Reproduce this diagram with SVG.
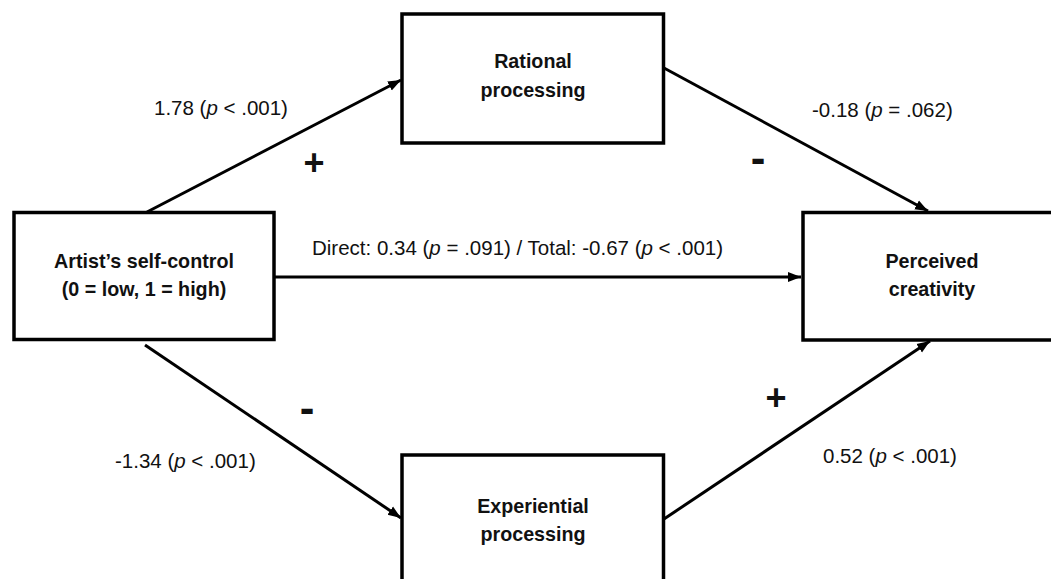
<svg xmlns="http://www.w3.org/2000/svg" width="1051" height="579" viewBox="0 0 1051 579">
<style>
.box{fill:#fff;stroke:#000;stroke-width:3.5}
.nt{font-family:"Liberation Sans",Arial,sans-serif;font-weight:bold;font-size:19.7px;fill:#111;text-anchor:middle}
.lb{font-family:"Liberation Sans",Arial,sans-serif;font-size:20.5px;fill:#111}
.sg{font-family:"Liberation Sans",Arial,sans-serif;font-weight:bold;fill:#111;text-anchor:middle}
.edge{stroke:#000;stroke-width:3;fill:none;marker-end:url(#ah)}
</style>
<defs>
<marker id="ah" markerUnits="userSpaceOnUse" markerWidth="14" markerHeight="12" refX="13" refY="6" orient="auto">
<path d="M0,1 L13,6 L0,11 z" fill="#000"/>
</marker>
</defs>
<rect width="1051" height="579" fill="#fff"/>
<g id="connectors">
<line class="edge" x1="147" y1="212" x2="401" y2="80"/>
<line class="edge" x1="664" y1="68" x2="928" y2="211"/>
<line class="edge" x1="275" y1="277" x2="801" y2="277"/>
<line class="edge" x1="145" y1="345" x2="401" y2="518"/>
<line class="edge" x1="664" y1="519" x2="930" y2="341"/>
</g>
<g id="node-selfcontrol">
<rect class="box" x="14" y="212.5" width="260" height="127"/>
<text class="nt" x="144" y="268">Artist’s self-control</text>
<text class="nt" x="144" y="296">(0 = low, 1 = high)</text>
</g>
<g id="node-rational">
<rect class="box" x="402" y="14" width="261.5" height="129"/>
<text class="nt" x="533" y="68">Rational</text>
<text class="nt" x="533" y="97">processing</text>
</g>
<g id="node-perceived">
<rect class="box" x="803" y="212.5" width="270" height="127.5"/>
<text class="nt" x="932" y="268">Perceived</text>
<text class="nt" x="932" y="296">creativity</text>
</g>
<g id="node-experiential">
<rect class="box" x="402" y="455" width="261.5" height="140"/>
<text class="nt" x="533" y="513">Experiential</text>
<text class="nt" x="533" y="541">processing</text>
</g>
<g id="labels">
<text class="lb" x="154" y="115">1.78 (<tspan font-style="italic">p</tspan> &lt; .001)</text>
<text class="lb" x="812" y="117">-0.18 (<tspan font-style="italic">p</tspan> = .062)</text>
<text class="lb" x="312" y="255" font-size="21.2">Direct: 0.34 (<tspan font-style="italic">p</tspan> = .091) / Total: -0.67 (<tspan font-style="italic">p</tspan> &lt; .001)</text>
<text class="lb" x="115" y="468">-1.34 (<tspan font-style="italic">p</tspan> &lt; .001)</text>
<text class="lb" x="823" y="463">0.52 (<tspan font-style="italic">p</tspan> &lt; .001)</text>
<text class="sg" x="314" y="175" font-size="36">+</text>
<text class="sg" x="758" y="173" font-size="44">-</text>
<text class="sg" x="307" y="423" font-size="44">-</text>
<text class="sg" x="776" y="410" font-size="36">+</text>
</g>
</svg>
